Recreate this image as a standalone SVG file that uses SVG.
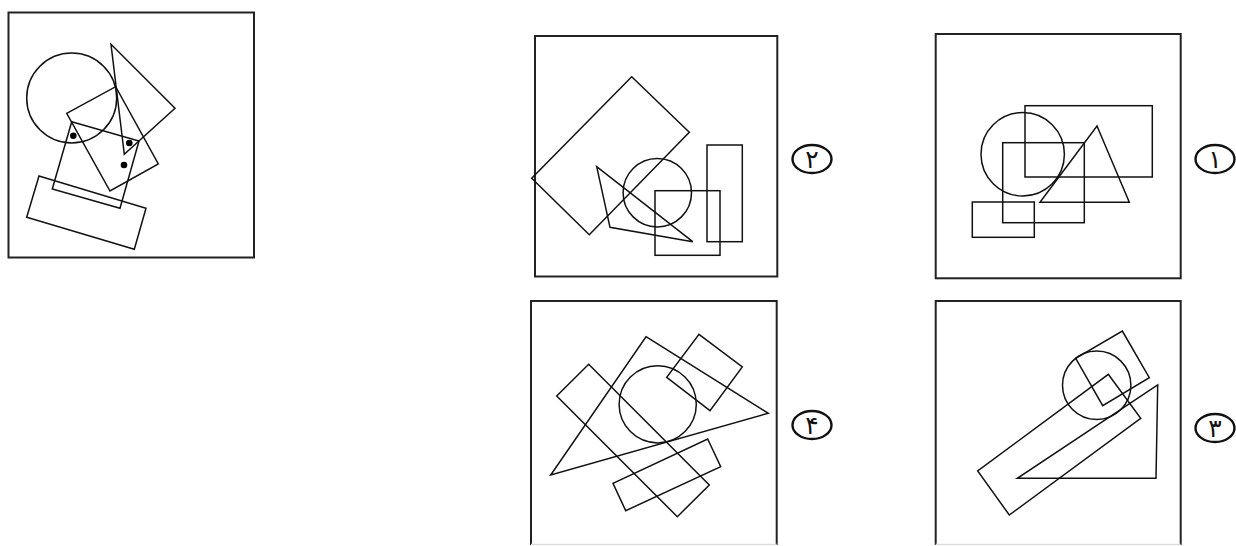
<svg xmlns="http://www.w3.org/2000/svg" width="1236" height="546" viewBox="0 0 1236 546">
<style>
.frame{fill:none;stroke:#222;stroke-width:2}
.s{fill:none;stroke:#111;stroke-width:1.5;stroke-linejoin:miter}
.dot{fill:#000}
.lab{fill:none;stroke:#111;stroke-width:2.4}
.num{font-family:"DejaVu Sans","Noto Sans",sans-serif;font-size:25px;fill:#111;text-anchor:middle}
</style>
<rect width="1236" height="546" fill="#fff"/>
<g id="question">
<rect class="frame" x="8.5" y="12.5" width="245.5" height="245"/>
<circle class="s" cx="71.7" cy="98" r="45"/>
<polygon class="s" points="111,44.3 175,108.3 124.3,154.3"/>
<polygon class="s" points="66.7,113.3 115.7,86.7 158.3,164 110,191"/>
<polygon class="s" points="71.7,121.7 139,141 120,208.3 52.3,189"/>
<polygon class="s" points="39,176 146,208.3 134.3,249.3 26.7,217.3"/>
<circle class="dot" cx="73.3" cy="135.7" r="3.3"/>
<circle class="dot" cx="129.3" cy="143" r="3.3"/>
<circle class="dot" cx="124" cy="165" r="3.3"/>
</g>
<g id="option2">
<rect class="frame" x="535" y="36" width="242.3" height="240.5"/>
<polygon class="s" points="631.7,76.7 689.3,132.3 589.3,234.7 531.7,178.3"/>
<circle class="s" cx="657.3" cy="192.7" r="34.2"/>
<polygon class="s" points="596.7,166.7 610,227.3 692.7,241.7"/>
<rect class="s" x="655" y="190.7" width="65" height="64.6"/>
<rect class="s" x="707" y="145" width="35.3" height="96.7"/>
<ellipse class="lab" cx="812" cy="159" rx="19.5" ry="14"/>
<text class="num" x="812" y="168">۲</text>
</g>
<g id="option1">
<rect class="frame" x="935.7" y="34" width="245" height="244.3"/>
<circle class="s" cx="1022.7" cy="154.3" r="41.7"/>
<rect class="s" x="1025" y="105.7" width="127.3" height="71.3"/>
<polygon class="s" points="1097,126 1129.3,202.3 1040,202.3"/>
<rect class="s" x="1002.7" y="142.7" width="81.6" height="80"/>
<rect class="s" x="972.3" y="202" width="62" height="35.3"/>
<ellipse class="lab" cx="1215" cy="159" rx="19.5" ry="14"/>
<text class="num" x="1215" y="168">۱</text>
</g>
<g id="option4">
<path class="frame" d="M531,545 V301 H776.7 V545"/>
<line x1="531" y1="544.5" x2="776.7" y2="544.5" stroke="#ddd" stroke-width="1.5"/>
<polygon class="s" points="646,336.7 768.3,413.3 550.7,475"/>
<circle class="s" cx="657.7" cy="404.3" r="38.6"/>
<polygon class="s" points="699,334.3 742.3,367 710,410.7 666.7,377.3"/>
<polygon class="s" points="588.7,364.3 709.3,485 677.3,516.7 556.7,396"/>
<polygon class="s" points="707.7,439 720.7,466.7 625.7,510.7 613,483.3"/>
<ellipse class="lab" cx="812" cy="425" rx="19.5" ry="14"/>
<text class="num" x="812" y="434">۴</text>
</g>
<g id="option3">
<path class="frame" d="M935.7,545 V301 H1180.7 V545"/>
<line x1="935.7" y1="544.5" x2="1180.7" y2="544.5" stroke="#ddd" stroke-width="1.5"/>
<circle class="s" cx="1096.7" cy="385.3" r="34.2"/>
<polygon class="s" points="1122.3,331 1149.3,377.7 1102.7,405.7 1075.7,358.3"/>
<polygon class="s" points="1108.3,374.3 1140.7,418.3 1009.3,515 977.7,471"/>
<polygon class="s" points="1157.7,385 1156,478.3 1017.3,478.3"/>
<ellipse class="lab" cx="1215" cy="428" rx="19.5" ry="14"/>
<text class="num" x="1215" y="437">۳</text>
</g>
</svg>
